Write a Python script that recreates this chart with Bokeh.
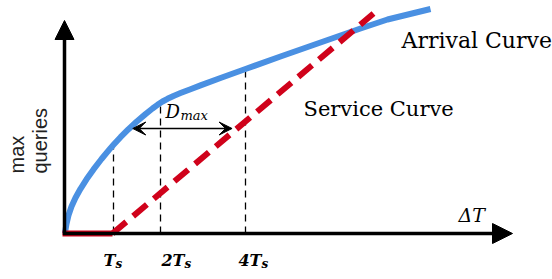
import numpy as np
from bokeh.plotting import figure
from bokeh.models import Arrow, NormalHead, VeeHead, Range1d
from bokeh.core.properties import value
from bokeh.embed import file_html
from bokeh.resources import INLINE

# ---- data (diagram units: time offset / query count) ----
arrival_dt = [0.5, 1, 2, 4, 7, 11, 16, 22, 29, 37, 46, 49, 56, 64, 72, 81, 88, 93, 98, 103,
              109, 116, 126, 136, 156, 181, 216, 266, 296, 323, 366]
arrival_q = [0, 3.8, 9.8, 18.2, 26.9, 35.7, 44.7, 54.2, 64.1, 74.5, 85.3, 88.7, 96.3, 104.3,
             111.7, 119.4, 125, 128.7, 132, 134.7, 137.5, 140.4, 144.3, 148.1, 155.5, 164.5,
             177, 194.5, 205, 214, 224.5]

service_dt = [-2, 48, 309]
service_q = [0, 0, 220]

tick_dt = [49, 96, 181]
tick_names = ["T", "2T", "4T"]
tick_sub = ["s", "s", "s"]

dmax_q = 105
x_axis_end = 448
y_axis_end = 213

BLUE = "#4A90E2"
RED = "#D0021B"
SERIF = value("DejaVu Serif")
UP = 7  # compensation for text baseline placement

p = figure(width=552, height=279, output_backend="svg", toolbar_location=None,
           x_range=Range1d(-64, 488), y_range=Range1d(-46, 233),
           min_border=0, outline_line_color=None)
p.axis.visible = False
p.grid.visible = False
p.background_fill_color = "white"
p.border_fill_color = "white"

# axes with arrow heads
p.add_layout(Arrow(x_start=0, y_start=-1.5, x_end=0, y_end=y_axis_end,
                   line_width=3.5, line_color="black",
                   end=NormalHead(size=19, fill_color="black", line_color="black", line_width=1)))
p.add_layout(Arrow(x_start=-1.5, y_start=0, x_end=x_axis_end, y_end=0,
                   line_width=3.5, line_color="black",
                   end=NormalHead(size=20, fill_color="black", line_color="black", line_width=1)))

# dashed guides from tick to arrival curve
tops = np.interp(tick_dt, arrival_dt, arrival_q)
p.segment(x0=tick_dt, y0=[0] * len(tick_dt), x1=tick_dt, y1=tops,
          line_color="black", line_width=1.3, line_dash="7 5")

# arrival curve
p.line(arrival_dt, arrival_q, line_color=BLUE, line_width=6, line_join="round")

# service curve
p.line(service_dt[:2], service_q[:2], line_color=RED, line_width=6)
p.line(service_dt[1:], service_q[1:], line_color=RED, line_width=6, line_dash="18 9")

# D_max double arrow
left = np.interp(dmax_q, arrival_q, arrival_dt) + 3.5
right = np.interp(dmax_q, service_q[1:], service_dt[1:]) - 5
p.add_layout(Arrow(x_start=left, y_start=dmax_q, x_end=right, y_end=dmax_q,
                   line_width=1.5, line_color="black",
                   start=VeeHead(size=13, fill_color="black", line_color="black", line_width=1),
                   end=VeeHead(size=13, fill_color="black", line_color="black", line_width=1)))
mid = (left + right) / 2
p.text(x=[mid - 17], y=[dmax_q + 10 + UP], text=["D"], text_font=SERIF, text_font_style="italic",
       text_font_size="18px", text_baseline="alphabetic", text_align="left", text_color="black")
p.text(x=[mid - 2], y=[dmax_q + 6 + UP], text=["max"], text_font=SERIF, text_font_style="italic",
       text_font_size="13px", text_baseline="alphabetic", text_align="left", text_color="black")

# tick labels
label_shift = [2, 24, 16]
ax = [t + s for t, s in zip(tick_dt, label_shift)]
p.text(x=ax, y=[-34 + UP] * 3, text=tick_names, text_font=SERIF, text_font_style="bold italic",
       text_font_size="16px", text_baseline="alphabetic", text_align="right", text_color="black")
p.text(x=ax, y=[-37 + UP] * 3, text=tick_sub, text_font=SERIF, text_font_style="bold italic",
       text_font_size="12px", text_baseline="alphabetic", text_align="left", text_color="black")

# delta T label
p.text(x=[394], y=[12 + UP], text=["ΔT"], text_font=SERIF, text_font_style="italic",
       text_font_size="19px", text_baseline="alphabetic", text_align="left", text_color="black")

# curve names
p.text(x=[337], y=[186 + UP], text=["Arrival Curve"], text_font=SERIF,
       text_font_size="22px", text_baseline="alphabetic", text_align="left", text_color="black")
p.text(x=[239], y=[118 + UP], text=["Service Curve"], text_font=SERIF,
       text_font_size="21px", text_baseline="alphabetic", text_align="left", text_color="black")

# y label (two lines, rotated)
p.text(x=[-41 - UP, -18 - UP], y=[60, 60], text=["max", "queries"], text_font=value("Liberation Sans"),
       text_font_size="20px", angle=np.pi / 2, text_baseline="alphabetic", text_align="left",
       text_color="#222222")

html = file_html(p, INLINE)
html = html.replace("<head>", "<head><style>html,body{margin:0;padding:0;overflow:hidden}</style>", 1)
open("out.html", "w").write(html)
